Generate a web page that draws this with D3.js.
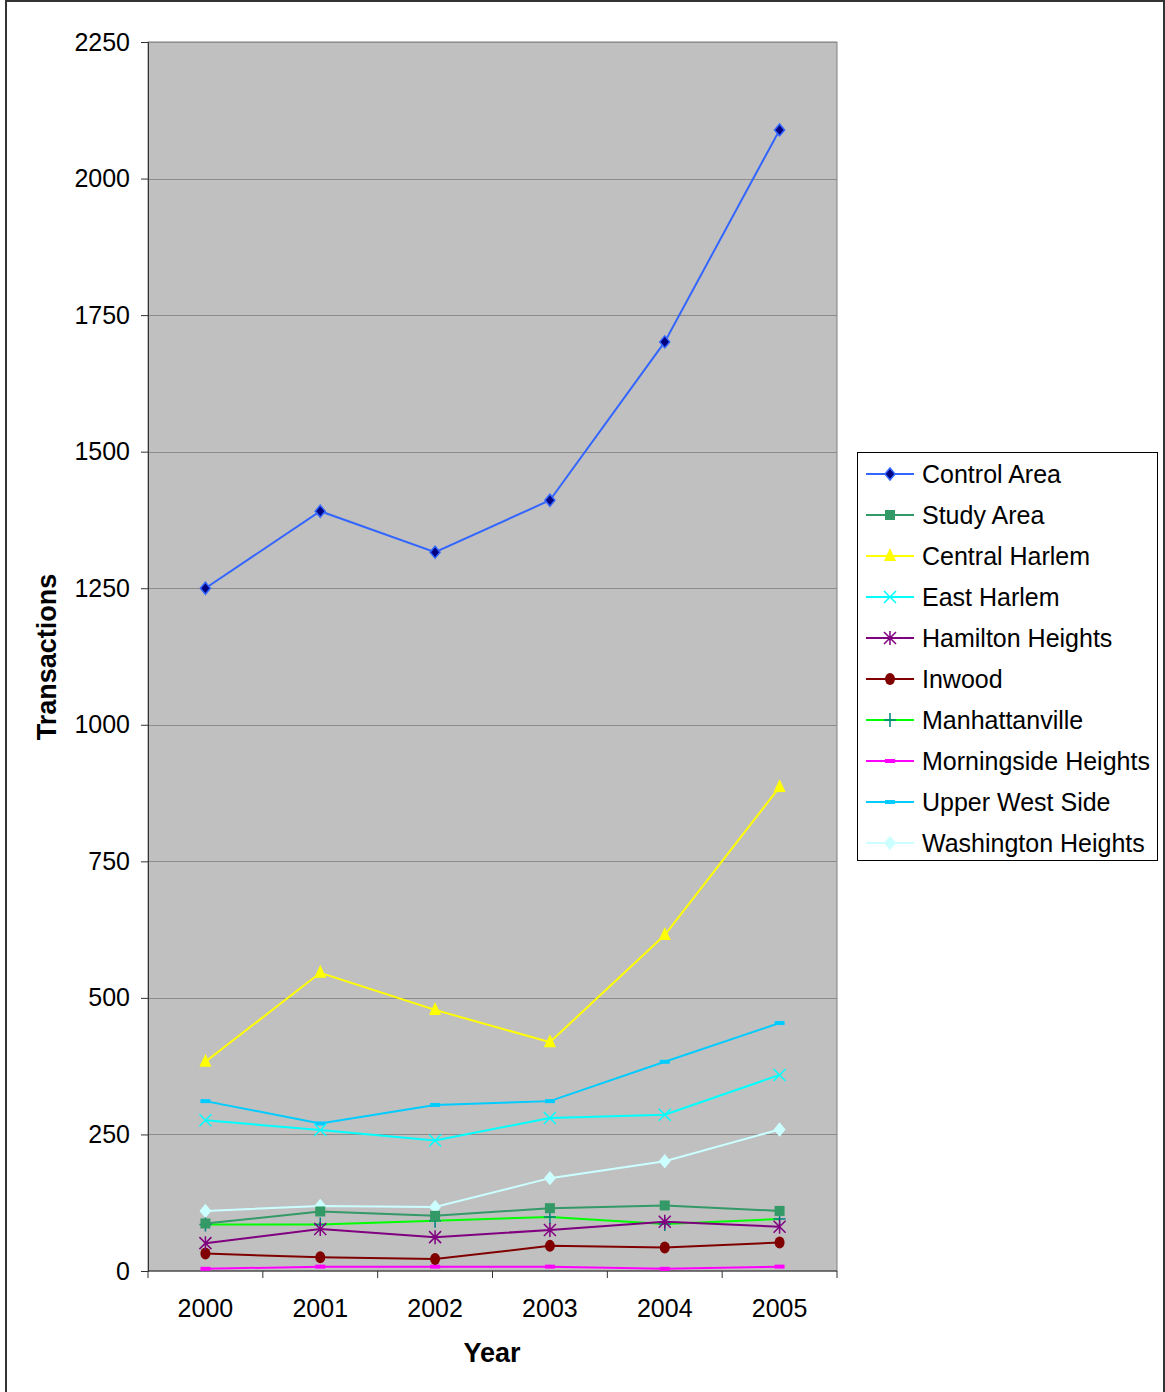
<!DOCTYPE html>
<html>
<head>
<meta charset="utf-8">
<script src="https://cdn.jsdelivr.net/npm/d3@7"></script>
<style>
  html, body { margin: 0; padding: 0; background: #fff; }
  svg { display: block; font-family: "Liberation Sans", Arial, sans-serif; }
</style>
</head>
<body>
<svg id="chart" width="1165" height="1392"></svg>
<script>
// Annual transaction counts by neighbourhood, 2000–2005
const years = ["2000", "2001", "2002", "2003", "2004", "2005"];
const yTicks = [0, 250, 500, 750, 1000, 1250, 1500, 1750, 2000, 2250];

const controlArea        = [1250, 1391, 1316, 1411, 1701, 2089];
const studyArea          = [87, 109, 101, 115, 120, 110];
const centralHarlem      = [383, 546, 478, 419, 615, 886];
const eastHarlem         = [276, 258, 239, 280, 286, 359];
const hamiltonHeights    = [51, 77, 62, 75, 90, 81];
const inwood             = [32, 25, 22, 46, 43, 52];
const manhattanville     = [85, 85, 92, 99, 86, 95];
const morningsideHeights = [4, 8, 8, 8, 4, 8];
const upperWestSide      = [311, 270, 304, 311, 383, 454];
const washingtonHeights  = [110, 119, 117, 170, 201, 259];

const series = [
  { name: "Control Area",        values: controlArea,        line: "#3366ff", marker: "diamond", fill: "#000080", mstroke: "#3366ff" },
  { name: "Study Area",          values: studyArea,          line: "#339966", marker: "square",  fill: "#339966", mstroke: "#339966" },
  { name: "Central Harlem",      values: centralHarlem,      line: "#ffff00", marker: "triangle",fill: "#ffff00", mstroke: "#ffff00" },
  { name: "East Harlem",         values: eastHarlem,         line: "#00ffff", marker: "x",       fill: "none",    mstroke: "#00ffff" },
  { name: "Hamilton Heights",    values: hamiltonHeights,    line: "#800080", marker: "star",    fill: "none",    mstroke: "#800080" },
  { name: "Inwood",              values: inwood,             line: "#800000", marker: "circle",  fill: "#800000", mstroke: "#800000" },
  { name: "Manhattanville",      values: manhattanville,     line: "#00ff00", marker: "plus",    fill: "none",    mstroke: "#008080" },
  { name: "Morningside Heights", values: morningsideHeights, line: "#ff00ff", marker: "dash",    fill: "#ff00ff", mstroke: "#ff00ff" },
  { name: "Upper West Side",     values: upperWestSide,      line: "#00ccff", marker: "dash",    fill: "#00ccff", mstroke: "#00ccff" },
  { name: "Washington Heights",  values: washingtonHeights,  line: "#ccffff", marker: "diamond", fill: "#ccffff", mstroke: "#ccffff" }
];

const svg = d3.select("#chart");
const LABEL = 25;

// outer frame
svg.append("rect")
  .attr("x", 6).attr("y", 1).attr("width", 1158).attr("height", 1400)
  .attr("fill", "none").attr("stroke", "#333").attr("stroke-width", 2);

const plot = { left: 148, right: 837, top: 42, bottom: 1271 };

const x = d3.scaleBand().domain(years).range([plot.left, plot.right]);
const y = d3.scaleLinear().domain([0, 2250]).range([plot.bottom, plot.top]);

// plot background
svg.append("rect")
  .attr("x", plot.left).attr("y", plot.top)
  .attr("width", plot.right - plot.left).attr("height", plot.bottom - plot.top)
  .attr("fill", "#c0c0c0").attr("stroke", "#808080").attr("stroke-width", 1);

// horizontal gridlines
svg.append("g").selectAll("line")
  .data(yTicks.filter(d => d > 0))
  .join("line")
  .attr("x1", plot.left).attr("x2", plot.right)
  .attr("y1", d => Math.round(y(d)) + 0.5).attr("y2", d => Math.round(y(d)) + 0.5)
  .attr("stroke", "#8c8c8c").attr("stroke-width", 1);

// y axis
const yAxis = svg.append("g")
  .attr("transform", `translate(${plot.left},0)`)
  .call(d3.axisLeft(y).tickValues(yTicks).tickSize(7).tickPadding(11).tickFormat(d3.format("d")));
yAxis.select(".domain").attr("stroke", "#333");
yAxis.selectAll(".tick line").attr("stroke", "#333");
yAxis.selectAll("text").attr("font-size", LABEL).attr("fill", "#000")
  .attr("font-family", "'Liberation Sans', Arial, sans-serif");

// x axis with ticks at category boundaries
const xAxis = svg.append("g").attr("transform", `translate(0,${plot.bottom})`);
xAxis.append("line")
  .attr("x1", plot.left).attr("x2", plot.right).attr("y1", 0).attr("y2", 0)
  .attr("stroke", "#333");
const bounds = years.map(d => x(d)).concat([x(years[years.length - 1]) + x.bandwidth()]);
xAxis.selectAll("line.tk").data(bounds).join("line").attr("class", "tk")
  .attr("x1", d => d).attr("x2", d => d).attr("y1", 0).attr("y2", 7)
  .attr("stroke", "#333");
xAxis.selectAll("text").data(years).join("text")
  .attr("x", d => x(d) + x.bandwidth() / 2).attr("y", 46)
  .attr("text-anchor", "middle").attr("font-size", LABEL).attr("fill", "#000")
  .text(d => d);

// axis titles
svg.append("text")
  .attr("x", 492).attr("y", 1362).attr("text-anchor", "middle")
  .attr("font-size", 27).attr("font-weight", "bold").text("Year");
svg.append("text")
  .attr("transform", "translate(56,657) rotate(-90)").attr("text-anchor", "middle")
  .attr("font-size", 27).attr("font-weight", "bold").text("Transactions");

// marker drawing
function drawMarker(g, s, cx, cy) {
  const m = s.marker;
  if (m === "diamond") {
    g.append("path").attr("d", `M${cx},${cy - 6}L${cx + 5},${cy}L${cx},${cy + 6}L${cx - 5},${cy}Z`)
      .attr("fill", s.fill).attr("stroke", s.mstroke).attr("stroke-width", 1.5);
  } else if (m === "square") {
    g.append("rect").attr("x", cx - 5).attr("y", cy - 5).attr("width", 10).attr("height", 10)
      .attr("fill", s.fill);
  } else if (m === "triangle") {
    g.append("path").attr("d", `M${cx},${cy - 8}L${cx + 6},${cy + 5}L${cx - 6},${cy + 5}Z`)
      .attr("fill", s.fill);
  } else if (m === "x") {
    g.append("path").attr("d", `M${cx - 6},${cy - 6}L${cx + 6},${cy + 6}M${cx - 6},${cy + 6}L${cx + 6},${cy - 6}`)
      .attr("stroke", s.mstroke).attr("stroke-width", 1.5);
  } else if (m === "star") {
    g.append("path").attr("d", `M${cx - 6},${cy - 6}L${cx + 6},${cy + 6}M${cx - 6},${cy + 6}L${cx + 6},${cy - 6}M${cx},${cy - 7}L${cx},${cy + 7}`)
      .attr("stroke", s.mstroke).attr("stroke-width", 1.5);
  } else if (m === "circle") {
    g.append("ellipse").attr("cx", cx).attr("cy", cy).attr("rx", 5).attr("ry", 6)
      .attr("fill", s.fill);
  } else if (m === "plus") {
    g.append("path").attr("d", `M${cx - 6},${cy}L${cx + 6},${cy}M${cx},${cy - 7}L${cx},${cy + 7}`)
      .attr("stroke", s.mstroke).attr("stroke-width", 1.5);
  } else if (m === "dash") {
    g.append("rect").attr("x", cx - 5).attr("y", cy - 2).attr("width", 10).attr("height", 4)
      .attr("fill", s.fill);
  }
}

// series lines and markers
const line = d3.line().x((d, i) => x(years[i]) + x.bandwidth() / 2).y(d => y(d));
const drawOrder = series.slice().reverse();
drawOrder.forEach(s => {
  const g = svg.append("g");
  g.append("path").datum(s.values).attr("d", line)
    .attr("fill", "none").attr("stroke", s.line).attr("stroke-width", 2);
  s.values.forEach((v, i) => drawMarker(g, s, x(years[i]) + x.bandwidth() / 2, y(v)));
});

// legend
const legend = svg.append("g");
legend.append("rect")
  .attr("x", 857.5).attr("y", 452.5).attr("width", 300).attr("height", 408)
  .attr("fill", "#fff").attr("stroke", "#000").attr("stroke-width", 1);
series.forEach((s, i) => {
  const ly = 474 + i * 41;
  const g = legend.append("g");
  g.append("line").attr("x1", 866).attr("x2", 914).attr("y1", ly).attr("y2", ly)
    .attr("stroke", s.line).attr("stroke-width", 2);
  drawMarker(g, s, 890, ly);
  g.append("text").attr("x", 922).attr("y", ly + 9).attr("font-size", LABEL).attr("fill", "#000")
    .text(s.name);
});
</script>
</body>
</html>
